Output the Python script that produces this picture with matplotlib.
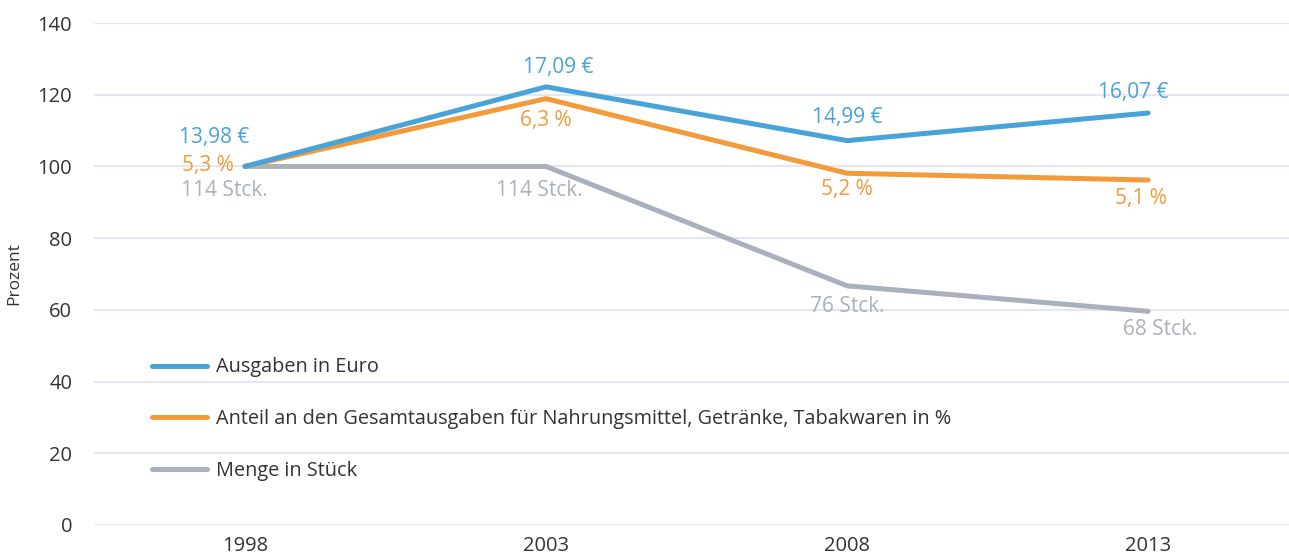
import matplotlib.pyplot as plt

plt.rcParams['font.family'] = ['Open Sans', 'DejaVu Sans']

# data
years = ['1998', '2003', '2008', '2013']
euro_labels = ['13,98 €', '17,09 €', '14,99 €', '16,07 €']
share_labels = ['5,3 %', '6,3 %', '5,2 %', '5,1 %']
qty_labels = ['114 Stck.', '114 Stck.', '76 Stck.', '68 Stck.']
ausgaben = [100, 122.2, 107.2, 114.9]
anteil = [100, 118.9, 98.1, 96.2]
menge = [100, 100, 66.7, 59.6]

blue = '#47a3d8'
orange = '#f39a3a'
grey = '#aab1bc'
text_col = '#333333'

fig = plt.figure(figsize=(12.89, 5.6), dpi=100)
ax = fig.add_axes([0.0733, 0.0625, 0.9267, 0.8964])

x = list(range(len(years)))
ax.plot(x, menge, color=grey, lw=3.6, solid_capstyle='round', solid_joinstyle='round',
        label='Menge in Stück', zorder=3)
ax.plot(x, anteil, color=orange, lw=3.6, solid_capstyle='round', solid_joinstyle='round',
        label='Anteil an den Gesamtausgaben für Nahrungsmittel, Getränke, Tabakwaren in %', zorder=4)
ax.plot(x, ausgaben, color=blue, lw=3.6, solid_capstyle='round', solid_joinstyle='round',
        label='Ausgaben in Euro', zorder=5)

# label offsets in points
blue_off = [(-22, 21), (9, 14), (0, 17), (-11, 15)]
orange_off = [(-27, 1), (0, -16), (0, -12), (-5, -13)]
grey_off = [(-15, -17), (-5, -17), (0, -15), (9, -13)]

for i in x:
    ax.annotate(euro_labels[i], (i, ausgaben[i]), xytext=blue_off[i], textcoords='offset points',
                ha='center', va='center', color=blue, fontsize=15)
    ax.annotate(share_labels[i], (i, anteil[i]), xytext=orange_off[i], textcoords='offset points',
                ha='center', va='center', color=orange, fontsize=15)
    ax.annotate(qty_labels[i], (i, menge[i]), xytext=grey_off[i], textcoords='offset points',
                ha='center', va='center', color=grey, fontsize=15)

ax.set_xlim(-0.5, 3.468)
ax.set_ylim(0, 140)
ax.set_yticks(range(0, 141, 20))
ax.set_xticks(x)
ax.set_xticklabels(years)
ax.grid(axis='y', color='#e4e6f2', lw=1.5)
ax.set_axisbelow(True)
for s in ax.spines.values():
    s.set_visible(False)
ax.tick_params(axis='y', length=0, pad=16, labelsize=14.5, labelcolor=text_col)
ax.tick_params(axis='x', length=0, pad=8, labelsize=14.5, labelcolor=text_col)
ax.set_ylabel('Prozent', fontsize=12.5, color=text_col, labelpad=11)

handles, labels = ax.get_legend_handles_labels()
leg = ax.legend(handles[::-1], labels[::-1], loc='lower left', bbox_to_anchor=(0.033, 0.052),
                frameon=False, fontsize=14.3, handlelength=2.8, handletextpad=0.45,
                labelspacing=1.6, labelcolor=text_col)

fig.savefig('out.png', dpi=100)
